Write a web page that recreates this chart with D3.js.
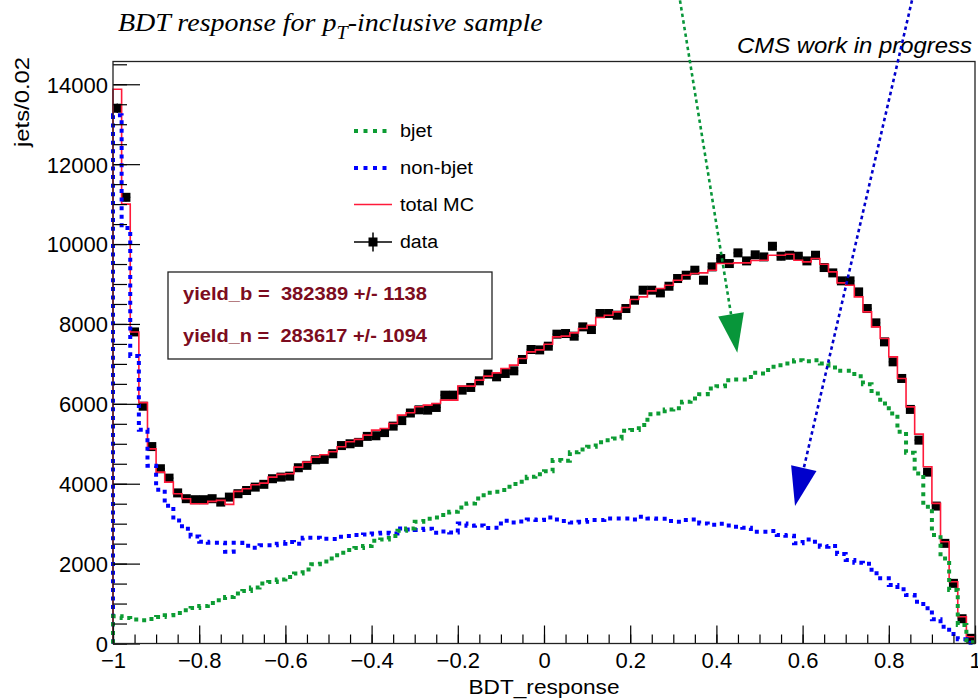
<!DOCTYPE html>
<html>
<head>
<meta charset="utf-8">
<script src="https://cdn.jsdelivr.net/npm/d3@7"></script>
<style>
  body { margin: 0; background: #fff; }
  svg { display: block; }
  text { font-family: "Liberation Sans", Arial, Helvetica, sans-serif; }
  text.serif { font-family: "Liberation Serif", "Times New Roman", serif; }
</style>
</head>
<body>
<svg id="chart" width="978" height="700"></svg>
<script>
// ---- histogram binning: 100 bins of 0.02 on [-1, 1] ----
const nBins = 100;
const xMin = -1, xMax = 1;
const binEdges = d3.range(nBins + 1).map(i => xMin + i * (xMax - xMin) / nBins);

// ---- per-bin contents (jets / 0.02) ----
const dataCounts = [
  13400, 11170, 7800, 5940, 4930, 4375, 4140, 3770, 3625, 3600,
  3600, 3625, 3540, 3665, 3750, 3830, 3915, 3985, 4125, 4165,
  4190, 4400, 4460, 4600, 4610, 4750, 4955, 5000, 5035, 5185,
  5200, 5280, 5442, 5580, 5770, 5850, 5842, 5909, 6217, 6217,
  6343, 6410, 6576, 6743, 6676, 6760, 6826, 7110, 7360, 7350,
  7443, 7744, 7760, 7694, 7927, 7860, 8261, 8261, 8219, 8386,
  8594, 8845, 8845, 8777, 8944, 9137, 9220, 9345, 9095, 9428,
  9637, 9512, 9779, 9578, 9730, 9678, 9945, 9695, 9720, 9695,
  9578, 9720, 9412, 9278, 9078, 9078, 8802, 8386, 8027, 7551,
  7051, 6635, 5860, 5091, 4290, 3440, 2507, 1506, 620, 130
];
const totalMC = [
  13875, 11000, 7800, 6030, 4873, 4290, 4040, 3750, 3625, 3500,
  3500, 3558, 3583, 3483, 3808, 3875, 3975, 4016, 4166, 4233,
  4250, 4416, 4541, 4666, 4725, 4800, 4925, 5050, 5109, 5217,
  5342, 5384, 5509, 5717, 5776, 5926, 5967, 6009, 6093, 6093,
  6443, 6443, 6593, 6693, 6776, 6885, 6968, 7135, 7301, 7350,
  7490, 7677, 7694, 7777, 7885, 7969, 8161, 8219, 8302, 8411,
  8611, 8677, 8827, 8887, 8970, 9095, 9220, 9262, 9278, 9345,
  9512, 9512, 9528, 9528, 9590, 9595, 9720, 9720, 9745, 9595,
  9553, 9637, 9495, 9303, 9028, 8970, 8677, 8302, 7927, 7636,
  7176, 6635, 5925, 5242, 4424, 3507, 2548, 1546, 671, 170
];
const bjet = [
  680, 640, 600, 583, 616, 666, 708, 766, 833, 891,
  941, 1016, 1083, 1166, 1250, 1316, 1400, 1500, 1541, 1600,
  1666, 1750, 1850, 1983, 2050, 2131, 2273, 2339, 2389, 2439,
  2573, 2606, 2690, 2823, 2882, 3048, 3123, 3157, 3215, 3298,
  3407, 3507, 3632, 3773, 3798, 3840, 3990, 4049, 4173, 4240,
  4310, 4591, 4573, 4785, 4858, 4924, 5041, 5091, 5133, 5325,
  5342, 5467, 5742, 5759, 5859, 5892, 6050, 6134, 6242, 6384,
  6443, 6593, 6610, 6610, 6780, 6760, 6926, 6968, 7010, 7093,
  7068, 7093, 7010, 6910, 6826, 6826, 6693, 6493, 6260, 6009,
  5759, 5300, 4774, 4257, 3423, 2715, 2131, 1339, 463, 30
];
const nonBjet = [
  13225, 10400, 7200, 5350, 4450, 3850, 3450, 3080, 2870, 2680,
  2550, 2520, 2520, 2300, 2520, 2450, 2400, 2460, 2460, 2500,
  2540, 2500, 2650, 2650, 2620, 2614, 2673, 2690, 2715, 2731,
  2756, 2773, 2756, 2881, 2856, 2840, 2873, 2773, 2806, 2781,
  3007, 2948, 2957, 2890, 2898, 3073, 3032, 3057, 3107, 3090,
  3157, 3107, 3065, 3032, 3048, 3090, 3090, 3132, 3132, 3132,
  3107, 3173, 3132, 3123, 3065, 3048, 3090, 3107, 3007, 2973,
  2998, 2957, 2923, 2898, 2798, 2798, 2815, 2715, 2698, 2507,
  2606, 2548, 2423, 2440, 2239, 2089, 2022, 1997, 1756, 1631,
  1464, 1356, 1214, 1046, 880, 605, 421, 238, 105, 20
];

// ---- axes ----
const xTicks = [-1, -0.8, -0.6, -0.4, -0.2, 0, 0.2, 0.4, 0.6, 0.8, 1];
const xTickLabels = ["\u22121", "\u22120.8", "\u22120.6", "\u22120.4", "\u22120.2", "0", "0.2", "0.4", "0.6", "0.8", "1"];
const xMinorTicks = d3.range(0, 41).map(i => -1 + i * 0.05);
const yTicks = [0, 2000, 4000, 6000, 8000, 10000, 12000, 14000];
const yTickLabels = ["0", "2000", "4000", "6000", "8000", "10000", "12000", "14000"];
const yMinorTicks = d3.range(0, 14501, 500);
const yMax = 14570;

// ---- annotations ----
const legendLabels = ["bjet", "non-bjet", "total MC", "data"];
const yieldLines = ["yield_b =  382389 +/- 1138", "yield_n =  283617 +/- 1094"];
const arrows = [
  { x1: 0.3155, y1: 16100, x2: 0.4485, y2: 7276, color: "#08963a" },
  { x1: 0.8538, y1: 16100, x2: 0.5824, y2: 3440, color: "#0000cc" }
];

// ---- colours ----
const colB = "#0c9c33", colN = "#0000ff", colMC = "#ff1a3a", colData = "#000";
const colYield = "#7c0c20";

// ---- layout ----
const plot = { left: 113, right: 975, top: 61.5, bottom: 643.5 };
const svg = d3.select("#chart");
const x = d3.scaleLinear().domain([xMin, xMax]).range([plot.left, plot.right]);
const y = d3.scaleLinear().domain([0, yMax]).range([plot.bottom, plot.top]);

function stepPath(vals) {
  const pts = [[binEdges[0], 0]];
  vals.forEach((v, i) => { pts.push([binEdges[i], v]); pts.push([binEdges[i + 1], v]); });
  pts.push([binEdges[nBins], 0]);
  return d3.line().x(d => x(d[0])).y(d => y(d[1]))(pts);
}

// data points: square markers with error bars
const gData = svg.append("g");
dataCounts.forEach((v, i) => {
  const xc = x((binEdges[i] + binEdges[i + 1]) / 2);
  const err = Math.sqrt(v);
  gData.append("line").attr("x1", x(binEdges[i])).attr("x2", x(binEdges[i + 1]))
    .attr("y1", y(v)).attr("y2", y(v)).attr("stroke", colData).attr("stroke-width", 1.5);
  gData.append("line").attr("x1", xc).attr("x2", xc)
    .attr("y1", y(v - err)).attr("y2", y(v + err)).attr("stroke", colData).attr("stroke-width", 1.5);
  gData.append("rect").attr("x", xc - 4.5).attr("y", y(v) - 4.5)
    .attr("width", 9).attr("height", 9).attr("fill", colData);
});

// MC histograms
svg.append("path").attr("d", stepPath(totalMC)).attr("fill", "none")
  .attr("stroke", colMC).attr("stroke-width", 1.6);
svg.append("path").attr("d", stepPath(nonBjet)).attr("fill", "none")
  .attr("stroke", colN).attr("stroke-width", 4).attr("stroke-dasharray", "4 4.6");
svg.append("path").attr("d", stepPath(bjet)).attr("fill", "none")
  .attr("stroke", colB).attr("stroke-width", 4).attr("stroke-dasharray", "4 4.6");

// axes (ticks pointing into the frame)
const gx = svg.append("g").attr("transform", `translate(0,${plot.bottom})`)
  .call(d3.axisBottom(x).tickValues(xMinorTicks).tickSize(-9).tickFormat(""));
gx.select(".domain").remove();
const gx2 = svg.append("g").attr("transform", `translate(0,${plot.bottom})`)
  .call(d3.axisBottom(x).tickValues(xTicks).tickSize(-18).tickPadding(8.5)
    .tickFormat((d, i) => xTickLabels[i]));
gx2.select(".domain").remove();
gx2.selectAll("text").attr("font-size", 22).attr("fill", "#000");

const gy = svg.append("g").attr("transform", `translate(${plot.left},0)`)
  .call(d3.axisLeft(y).tickValues(yMinorTicks).tickSize(-14).tickFormat(""));
gy.select(".domain").remove();
const gy2 = svg.append("g").attr("transform", `translate(${plot.left},0)`)
  .call(d3.axisLeft(y).tickValues(yTicks).tickSize(-27).tickPadding(5)
    .tickFormat((d, i) => yTickLabels[i]));
gy2.select(".domain").remove();
gy2.selectAll("text").attr("font-size", 22).attr("dy", "0.36em").attr("fill", "#000");
svg.selectAll(".tick line").attr("stroke", "#000").attr("stroke-width", 1.2);

// frame
svg.append("rect").attr("x", plot.left).attr("y", plot.top)
  .attr("width", plot.right - plot.left).attr("height", plot.bottom - plot.top)
  .attr("fill", "none").attr("stroke", "#222").attr("stroke-width", 1.3);

// axis titles
svg.append("text").attr("x", x(0)).attr("y", 694).attr("text-anchor", "middle")
  .attr("font-size", 21).attr("textLength", 151).attr("lengthAdjust", "spacingAndGlyphs")
  .text("BDT_response");
svg.append("text").attr("transform", "translate(29,57) rotate(-90)")
  .attr("text-anchor", "end").attr("font-size", 21)
  .attr("textLength", 90).attr("lengthAdjust", "spacingAndGlyphs")
  .text("jets/0.02");

// title (serif italic, with subscript T), slightly widened
const title = svg.append("text").attr("class", "serif")
  .attr("transform", "translate(118,31) scale(1.12,1)")
  .attr("font-style", "italic").attr("font-size", 25);
title.append("tspan").text("BDT response for p");
title.append("tspan").attr("dy", 8).attr("font-size", 18).text("T");
title.append("tspan").attr("dy", -8).text("-inclusive sample");

svg.append("text").attr("x", 972).attr("y", 53).attr("text-anchor", "end")
  .attr("font-style", "italic").attr("font-size", 22)
  .attr("textLength", 235).attr("lengthAdjust", "spacingAndGlyphs")
  .text("CMS work in progress");

// legend
const legendY = [131, 168, 204.5, 242];
const legendW = [32, 73, 74, 38];
const gl = svg.append("g");
legendLabels.forEach((lab, i) => {
  const ly = legendY[i];
  if (i < 2) {
    gl.append("line").attr("x1", 354).attr("x2", 392).attr("y1", ly).attr("y2", ly)
      .attr("stroke", i === 0 ? colB : colN).attr("stroke-width", 4).attr("stroke-dasharray", "4 5.5");
  } else if (i === 2) {
    gl.append("line").attr("x1", 354).attr("x2", 392).attr("y1", ly).attr("y2", ly)
      .attr("stroke", colMC).attr("stroke-width", 1.6);
  } else {
    gl.append("line").attr("x1", 354).attr("x2", 392).attr("y1", ly).attr("y2", ly)
      .attr("stroke", colData).attr("stroke-width", 1.5);
    gl.append("line").attr("x1", 373).attr("x2", 373).attr("y1", ly - 9.5).attr("y2", ly + 9.5)
      .attr("stroke", colData).attr("stroke-width", 1.5);
    gl.append("rect").attr("x", 368.5).attr("y", ly - 4.5).attr("width", 9).attr("height", 9).attr("fill", colData);
  }
  gl.append("text").attr("x", 400).attr("y", ly).attr("dy", "0.35em")
    .attr("font-size", 18).attr("textLength", legendW[i]).attr("lengthAdjust", "spacingAndGlyphs")
    .text(lab);
});

// fit-yield box
svg.append("rect").attr("x", 168).attr("y", 272).attr("width", 324).attr("height", 87)
  .attr("fill", "#fff").attr("stroke", "#222").attr("stroke-width", 1.3);
yieldLines.forEach((t, i) => {
  svg.append("text").attr("x", 183).attr("y", 299.5 + i * 42)
    .attr("font-size", 18).attr("font-weight", "bold").attr("fill", colYield)
    .style("white-space", "pre")
    .attr("textLength", 244).attr("lengthAdjust", "spacingAndGlyphs")
    .text(t);
});

// arrows
arrows.forEach(a => {
  const x1 = x(a.x1), y1 = y(a.y1), x2 = x(a.x2), y2 = y(a.y2);
  const len = Math.hypot(x2 - x1, y2 - y1);
  const ux = (x2 - x1) / len, uy = (y2 - y1) / len;
  const headL = 39, headW = 13;
  const bx = x2 - ux * headL, by = y2 - uy * headL;
  svg.append("line").attr("x1", x1).attr("y1", y1).attr("x2", bx).attr("y2", by)
    .attr("stroke", a.color).attr("stroke-width", 2.6).attr("stroke-dasharray", "3.5 3.2");
  svg.append("path")
    .attr("d", `M${x2},${y2}L${bx - uy * headW},${by + ux * headW}L${bx + uy * headW},${by - ux * headW}Z`)
    .attr("fill", a.color);
});
</script>
</body>
</html>
